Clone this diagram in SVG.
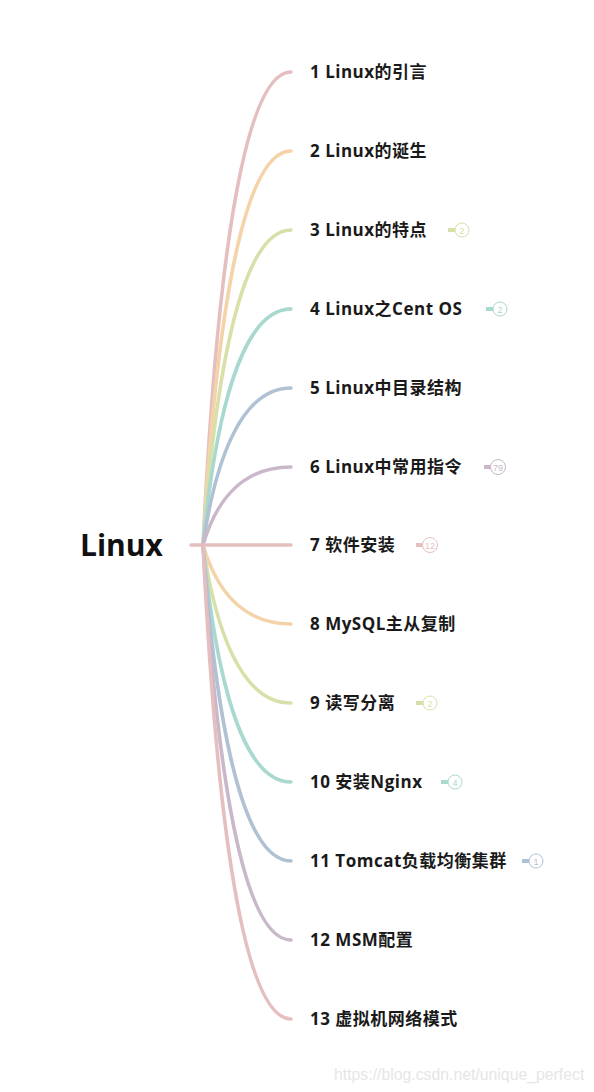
<svg xmlns="http://www.w3.org/2000/svg" width="594" height="1092" viewBox="0 0 594 1092">
<style>
.br{fill:none;stroke-width:3.5;stroke-linecap:round}
.lbl{font-family:"Open Sans","Noto Sans CJK SC",sans-serif;font-weight:700;font-size:17px;letter-spacing:0.5px;fill:#1a1a1a}
.root{font-family:"Open Sans","Noto Sans CJK SC",sans-serif;font-weight:700;font-size:30px;fill:#111}
.bc{fill:#fff;stroke-width:1}
.bt{font-family:"Liberation Sans",Arial,sans-serif;font-size:9px;text-anchor:middle}
.bl{stroke-width:4}
.c1{stroke:#e5bfbf}.c2{stroke:#f4d3a8}.c3{stroke:#d9dfa9}.c4{stroke:#a9d8cf}.c5{stroke:#b0c1d3}.c6{stroke:#c9b7ca}
.f3{fill:#d9dfa9}.f4{fill:#a9d8cf}.f5{fill:#b0c1d3}.f6{fill:#c9b7ca}.f1{fill:#e5bfbf}
.wm{font-family:"Liberation Sans",Arial,sans-serif;font-size:15.8px;fill:#e6e6e6}
</style>
<rect width="594" height="1092" fill="#fff"/>
<g id="connectors">
<path class="br c1" d="M203,545 C215,299 240,72 291,72"/>
<path class="br c2" d="M203,545 C215,340 240,151 291,151"/>
<path class="br c3" d="M203,545 C215,381 240,230 291,230"/>
<path class="br c4" d="M203,545 C215,422 240,309 291,309"/>
<path class="br c5" d="M203,545 C215,463 240,388 291,388"/>
<path class="br c6" d="M203,545 C215,504 240,467 291,467"/>
<path class="br c1" d="M191,545 L291,545"/>
<path class="br c2" d="M203,545 C215,586 240,624 291,624"/>
<path class="br c3" d="M203,545 C215,627 240,703 291,703"/>
<path class="br c4" d="M203,545 C215,668 240,782 291,782"/>
<path class="br c5" d="M203,545 C215,709 240,861 291,861"/>
<path class="br c6" d="M203,545 C215,750 240,940 291,940"/>
<path class="br c1" d="M203,545 C215,791 240,1019 291,1019"/>
</g>
<g id="root"><text class="root" x="80" y="556">Linux</text></g>
<g id="n1"><text class="lbl" x="310" y="78">1 Linux的引言</text></g>
<g id="n2"><text class="lbl" x="310" y="157">2 Linux的诞生</text></g>
<g id="n3"><text class="lbl" x="310" y="236">3 Linux的特点</text>
<line class="bl c3" x1="448" y1="230" x2="456" y2="230"/><circle class="bc c3" cx="462" cy="230" r="7"/><text class="bt f3" x="462" y="233.5">2</text></g>
<g id="n4"><text class="lbl" x="310" y="315">4 Linux之Cent OS</text>
<line class="bl c4" x1="486" y1="309" x2="494" y2="309"/><circle class="bc c4" cx="500" cy="309" r="7"/><text class="bt f4" x="500" y="312.5">2</text></g>
<g id="n5"><text class="lbl" x="310" y="394">5 Linux中目录结构</text></g>
<g id="n6"><text class="lbl" x="310" y="473">6 Linux中常用指令</text>
<line class="bl c6" x1="484" y1="467" x2="492" y2="467"/><circle class="bc c6" cx="498" cy="467" r="7.5"/><text class="bt f6" x="498" y="470.5">79</text></g>
<g id="n7"><text class="lbl" x="310" y="551">7 软件安装</text>
<line class="bl c1" x1="416" y1="545" x2="424" y2="545"/><circle class="bc c1" cx="430" cy="545" r="7.5"/><text class="bt f1" x="430" y="548.5">12</text></g>
<g id="n8"><text class="lbl" x="310" y="630">8 MySQL主从复制</text></g>
<g id="n9"><text class="lbl" x="310" y="709">9 读写分离</text>
<line class="bl c3" x1="416" y1="703" x2="424" y2="703"/><circle class="bc c3" cx="430" cy="703" r="7"/><text class="bt f3" x="430" y="706.5">2</text></g>
<g id="n10"><text class="lbl" x="310" y="788">10 安装Nginx</text>
<line class="bl c4" x1="441" y1="782" x2="449" y2="782"/><circle class="bc c4" cx="455" cy="782" r="7"/><text class="bt f4" x="455" y="785.5">4</text></g>
<g id="n11"><text class="lbl" x="310" y="867">11 Tomcat负载均衡集群</text>
<line class="bl c5" x1="522" y1="861" x2="530" y2="861"/><circle class="bc c5" cx="536" cy="861" r="7"/><text class="bt f5" x="536" y="864.5">1</text></g>
<g id="n12"><text class="lbl" x="310" y="946">12 MSM配置</text></g>
<g id="n13"><text class="lbl" x="310" y="1025">13 虚拟机网络模式</text></g>
<text class="wm" x="334" y="1080">https://blog.csdn.net/unique_perfect</text>
</svg>
